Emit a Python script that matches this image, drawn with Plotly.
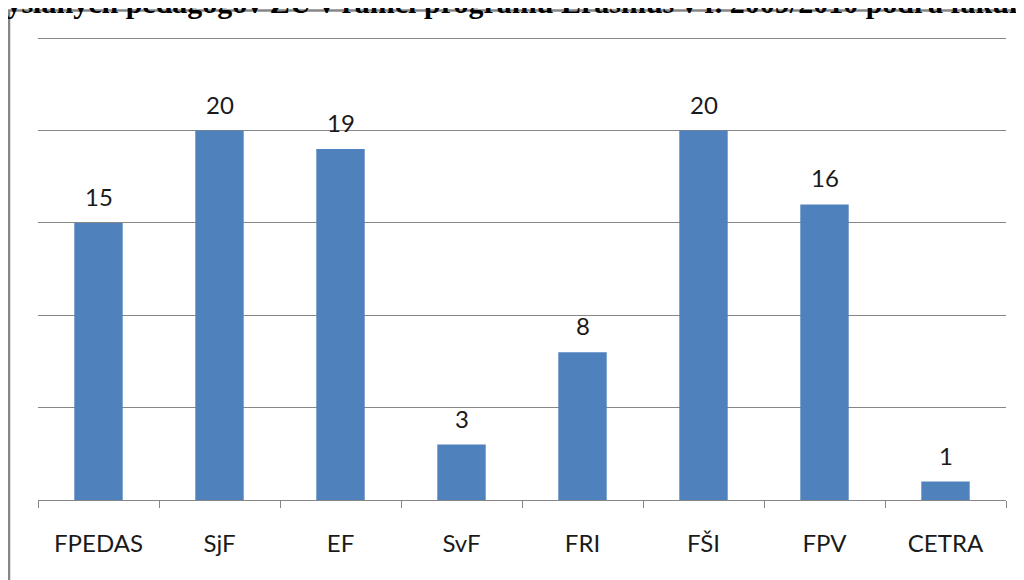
import plotly.graph_objects as go

categories = ["FPEDAS", "SjF", "EF", "SvF", "FRI", "FŠI", "FPV", "CETRA"]
values = [15, 20, 19, 3, 8, 20, 16, 1]
title_text = "Počet vyslaných pedagógov ŽU v rámci programu Erasmus v r. 2009/2010 podľa fakúlt"

# page body adds an 8px offset; figure coords = screen coords - 8
W, H = 1016, 572
L, R, T, B = 30, 18, 21, 80
pw, ph = W - L - R, H - T - B

def px(x):
    return (x - L) / pw

def py(y):
    return (H - B - y) / ph

FONT = "Lato, Open Sans, sans-serif"

fig = go.Figure(go.Bar(
    x=categories, y=values,
    marker=dict(color="#4F81BD", line=dict(width=0)),
    width=0.4,
    hoverinfo="x+y",
))

for c, v in zip(categories, values):
    fig.add_annotation(
        x=c, y=v, xref="x", yref="y", text=str(v), showarrow=False,
        yanchor="bottom", yshift=10,
        font=dict(family=FONT, size=24, color="#1a1a1a"),
    )

fig.update_layout(
    width=W, height=H,
    margin=dict(l=L, r=R, t=T, b=B),
    paper_bgcolor="white", plot_bgcolor="white",
    showlegend=False,
    font=dict(family=FONT, size=24, color="#1a1a1a"),
    xaxis=dict(
        showline=True, linecolor="#868686", linewidth=1,
        ticks="outside", tickson="boundaries", ticklen=7, tickcolor="#868686",
        tickfont=dict(size=24, color="#1a1a1a"), showgrid=False,
        ticklabelstandoff=22,
    ),
    yaxis=dict(
        range=[0, 25.5], tickvals=[0, 5, 10, 15, 20, 25], showticklabels=False,
        showgrid=True, gridcolor="#868686", gridwidth=1,
        zeroline=False, showline=False, ticks="",
    ),
    bargap=0.6,
)

fig.add_annotation(
    text="<b>" + title_text + "</b>", xref="paper", yref="paper",
    x=px(-96), y=py(-6), xanchor="left", yanchor="middle", showarrow=False,
    font=dict(family="Liberation Serif, Times New Roman, serif", size=30, color="black"),
)

fig.add_shape(type="line", xref="paper", yref="paper",
              x0=px(1), x1=px(1), y0=py(2), y1=py(600),
              line=dict(color="#868686", width=2.5))
fig.add_shape(type="line", xref="paper", yref="paper",
              x0=px(0), x1=px(1040), y0=py(2.5), y1=py(2.5),
              line=dict(color="#868686", width=2.5))

fig.write_html("out.html")
